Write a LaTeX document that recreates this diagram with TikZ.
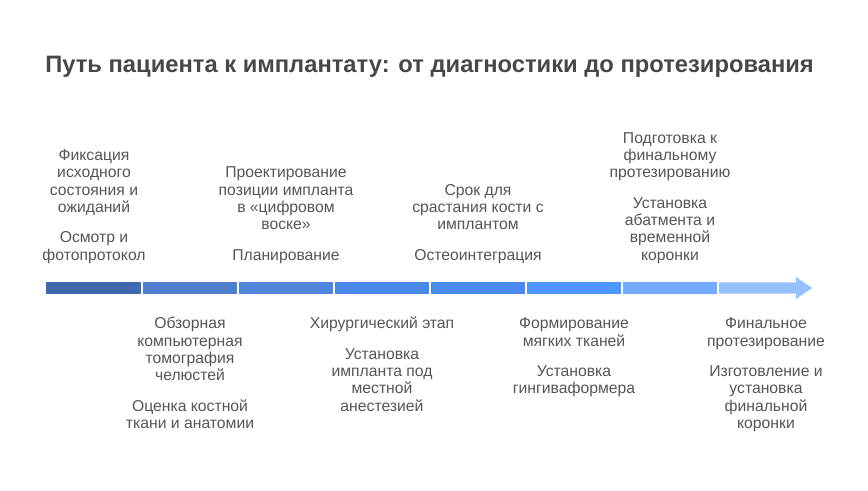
\documentclass[tikz,border=0pt]{standalone}
\usepackage{fontspec}
\setmainfont{Liberation Sans}
\newcommand\sT{\rule{0pt}{10pt}}
\newcommand\sB{\rule[-3pt]{0pt}{3pt}}
\begin{document}
\begin{tikzpicture}[x=0.75pt,y=-0.75pt,
  lbl/.style={align=center,inner sep=0pt,text=txtgray,
    font=\fontsize{11.8pt}{13pt}\selectfont},
  up/.style={lbl,anchor=south},
  dn/.style={lbl,anchor=north},
  seg/.style={draw=none,minimum height=8.6pt,inner sep=0pt,anchor=west,minimum width=71.25pt}]
\definecolor{txtgray}{HTML}{555555}
\definecolor{ttlgray}{HTML}{474747}
\definecolor{c1}{HTML}{4169AE}
\definecolor{c2}{HTML}{4D80CC}
\definecolor{c3}{HTML}{4E86DB}
\definecolor{c4}{HTML}{4A89E8}
\definecolor{c5}{HTML}{4B8BEE}
\definecolor{c6}{HTML}{5096FF}
\definecolor{c7}{HTML}{74AAFF}
\definecolor{c8}{HTML}{95BFFF}
\useasboundingbox (0,0) rectangle (868,491);
% title
\node[anchor=base west,inner sep=0pt,text=ttlgray,font=\fontsize{17.8pt}{21pt}\selectfont\bfseries] (title) at (45,72.5) {Путь пациента к имплантату: от диагностики до протезирования};
% bar segments
\node[seg,fill=c1] (s1) at (46,288) {};
\node[seg,fill=c2] (s2) at (142,288) {};
\node[seg,fill=c3] (s3) at (238,288) {};
\node[seg,fill=c4] (s4) at (334,288) {};
\node[seg,fill=c5] (s5) at (430,288) {};
\node[seg,fill=c6] (s6) at (526,288) {};
\node[seg,fill=c7] (s7) at (622,288) {};
\fill[c8] (718,282.3) -- (796,282.3) -- (796,277) -- (812,288) -- (796,299) -- (796,293.7) -- (718,293.7) -- cycle;
\coordinate (s8) at (766,288);
\foreach \b in {142,238,334,430,526,622,718}{
  \draw[white,line width=1pt] (\b,281) -- (\b,295);
}
% top columns
\node[up] (d1) at (94,216.7) {\sT Фиксация\\исходного\\состояния и\\ожиданий\sB};
\node[up] (t1) at (94,264.5) {\sT Осмотр и\\фотопротокол\sB};
\node[up] (d3) at (286,234) {\sT Проектирование\\позиции импланта\\в «цифровом\\воске»\sB};
\node[up] (t3) at (286,264.5) {\sT Планирование\sB};
\node[up] (d5) at (478,234) {\sT Срок для\\срастания кости с\\имплантом\sB};
\node[up] (t5) at (478,264.5) {\sT Остеоинтеграция\sB};
\node[up] (d7) at (670,182.1) {\sT Подготовка к\\финальному\\протезированию\sB};
\node[up] (t7) at (670,264.5) {\sT Установка\\абатмента и\\временной\\коронки\sB};
% bottom columns
\node[dn] (t2) at (190,315.2) {\sT Обзорная\\компьютерная\\томография\\челюстей\sB};
\node[dn] (d2) at (190,397.6) {\sT Оценка костной\\ткани и анатомии\sB};
\node[dn] (t4) at (382,315.2) {\sT Хирургический этап\sB};
\node[dn] (d4) at (382,345.7) {\sT Установка\\импланта под\\местной\\анестезией\sB};
\node[dn] (t6) at (574,315.2) {\sT Формирование\\мягких тканей\sB};
\node[dn] (d6) at (574,363) {\sT Установка\\гингиваформера\sB};
\node[dn] (t8) at (766,315.2) {\sT Финальное\\протезирование\sB};
\node[dn] (d8) at (766,363) {\sT Изготовление и\\установка\\финальной\\коронки\sB};
\end{tikzpicture}
\end{document}
